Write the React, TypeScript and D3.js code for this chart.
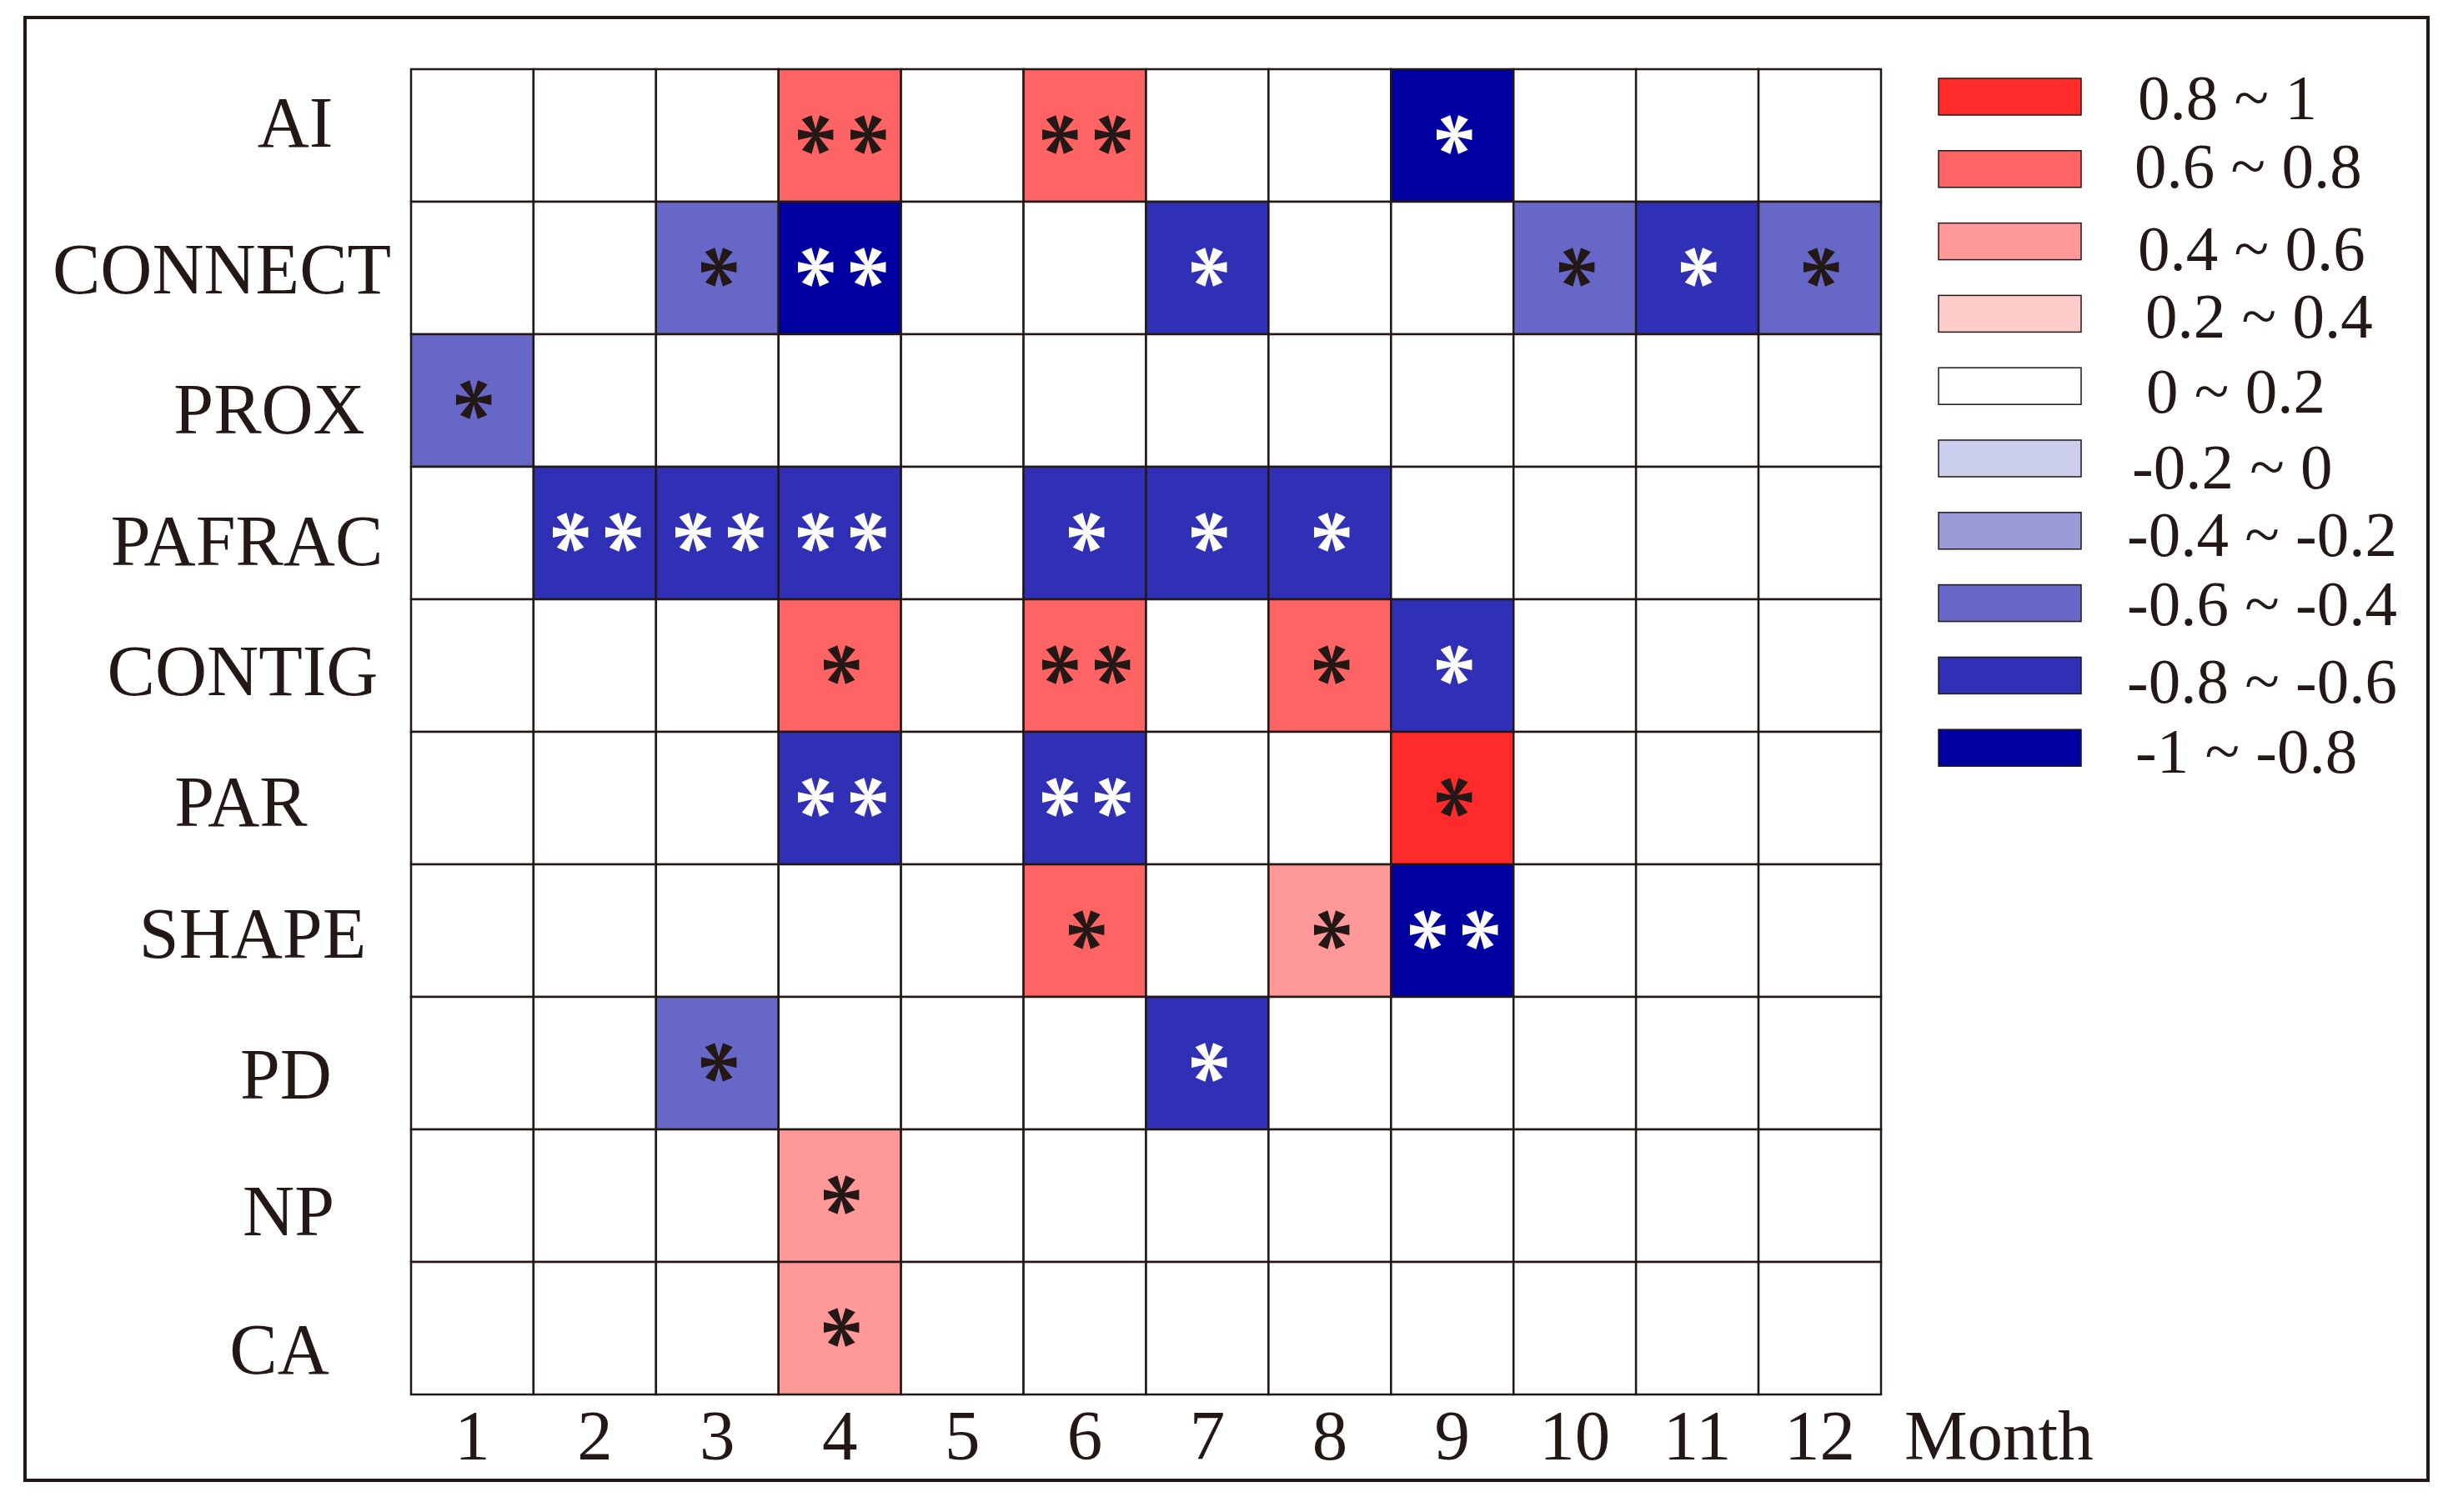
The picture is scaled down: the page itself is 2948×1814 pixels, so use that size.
import React from "react";
import * as d3 from "d3";

// Landscape metrics (rows, top to bottom) and months (columns)
const metrics = ["AI", "CONNECT", "PROX", "PAFRAC", "CONTIG", "PAR", "SHAPE", "PD", "NP", "CA"];
const months = ["1", "2", "3", "4", "5", "6", "7", "8", "9", "10", "11", "12"];

// Correlation coefficients (0 = blank / 0 ~ 0.2)
const coefficients = [
  [0, 0, 0, 0.7, 0, 0.7, 0, 0, -0.9, 0, 0, 0], // AI
  [0, 0, -0.5, -0.9, 0, 0, -0.7, 0, 0, -0.5, -0.7, -0.5], // CONNECT
  [-0.5, 0, 0, 0, 0, 0, 0, 0, 0, 0, 0, 0], // PROX
  [0, -0.7, -0.7, -0.7, 0, -0.7, -0.7, -0.7, 0, 0, 0, 0], // PAFRAC
  [0, 0, 0, 0.7, 0, 0.7, 0, 0.7, -0.7, 0, 0, 0], // CONTIG
  [0, 0, 0, -0.7, 0, -0.7, 0, 0, 0.9, 0, 0, 0], // PAR
  [0, 0, 0, 0, 0, 0.7, 0, 0.5, -0.9, 0, 0, 0], // SHAPE
  [0, 0, -0.5, 0, 0, 0, -0.7, 0, 0, 0, 0, 0], // PD
  [0, 0, 0, 0.5, 0, 0, 0, 0, 0, 0, 0, 0], // NP
  [0, 0, 0, 0.5, 0, 0, 0, 0, 0, 0, 0, 0], // CA
];

// Significance marks
const significance = [
  ["", "", "", "**", "", "**", "", "", "*", "", "", ""],
  ["", "", "*", "**", "", "", "*", "", "", "*", "*", "*"],
  ["*", "", "", "", "", "", "", "", "", "", "", ""],
  ["", "**", "**", "**", "", "*", "*", "*", "", "", "", ""],
  ["", "", "", "*", "", "**", "", "*", "*", "", "", ""],
  ["", "", "", "**", "", "**", "", "", "*", "", "", ""],
  ["", "", "", "", "", "*", "", "*", "**", "", "", ""],
  ["", "", "*", "", "", "", "*", "", "", "", "", ""],
  ["", "", "", "*", "", "", "", "", "", "", "", ""],
  ["", "", "", "*", "", "", "", "", "", "", "", ""],
];

// Legend classes (top to bottom)
const legendLabels = [
  "0.8 ~ 1", "0.6 ~ 0.8", "0.4 ~ 0.6", "0.2 ~ 0.4", "0 ~ 0.2",
  "-0.2 ~ 0", "-0.4 ~ -0.2", "-0.6 ~ -0.4", "-0.8 ~ -0.6", "-1 ~ -0.8",
];
const legendColors = [
  "#ff2a2a", "#ff6464", "#ff9999", "#ffcccc", "#ffffff",
  "#ccceee", "#9a9ad9", "#6767c8", "#3030b6", "#0000a0",
];
const thresholds = [-0.8, -0.6, -0.4, -0.2, 0, 0.2, 0.4, 0.6, 0.8];

// hand placement of the row labels and legend texts as in the original artwork
const labelCenterX = [354, 266, 323, 296, 291, 289, 303, 343, 346, 335];
const labelBaseline = [176, 352, 520, 678, 834, 991, 1149, 1318, 1482, 1648];
const legendTextX = [2564, 2560, 2564, 2573, 2574, 2557, 2551, 2551, 2551, 2561];
const legendTextDy = [27, 22, 34, 29, 32, 36, 30, 26, 33, 30];

const INK = "#231815";
const FONT = "'Liberation Serif', 'Times New Roman', serif";

const App = () => {
  const width = 2948;
  const height = 1814;

  const x = d3.scaleBand().domain(months).range([493, 2256]);
  const y = d3.scaleBand().domain(metrics).range([83, 1673]);
  const color = d3
    .scaleThreshold<number, string>()
    .domain(thresholds)
    .range(legendColors.slice().reverse());

  const cells = metrics.flatMap((m, i) =>
    months.map((mo, j) => ({
      metric: m,
      month: mo,
      r: coefficients[i][j],
      sig: significance[i][j],
    }))
  );

  const legendY = d3
    .scaleLinear()
    .domain([0, legendLabels.length - 1])
    .range([94, 94 + 86.8 * 9]);

  const starSize = 112;
  const starStep = 63;

  return (
    <div style={{ position: "absolute", left: 0, top: 0 }}>
      <svg width={width} height={height} style={{ display: "block", background: "#fff" }}>
        <rect x={0} y={0} width={width} height={height} fill="#fff" />
        {/* outer frame */}
        <rect x={30} y={21} width={2882} height={1755} fill="none" stroke={INK} strokeWidth={4} />

        {/* cells */}
        <g>
          {cells.map((d) => (
            <rect
              key={d.metric + d.month}
              x={x(d.month)}
              y={y(d.metric)}
              width={x.bandwidth()}
              height={y.bandwidth()}
              fill={color(d.r)}
              stroke={INK}
              strokeWidth={2.5}
            />
          ))}
        </g>

        {/* significance stars (glyph turned so that two arms lie flat) */}
        <g fontFamily={FONT} fontSize={starSize} fontWeight="bold" textAnchor="middle">
          {cells
            .filter((d) => d.sig)
            .flatMap((d) => {
              const n = d.sig.length;
              const cx0 = (x(d.month) as number) + x.bandwidth() / 2;
              const cy = (y(d.metric) as number) + y.bandwidth() / 2;
              return d3.range(n).map((k) => {
                const cx = cx0 + (k - (n - 1) / 2) * starStep;
                return (
                  <text
                    key={d.metric + d.month + k}
                    x={cx - 1}
                    y={cy + starSize * 0.457}
                    transform={`rotate(90 ${cx} ${cy})`}
                    fill={d.r < -0.6 ? "#ffffff" : INK}
                  >
                    *
                  </text>
                );
              });
            })}
        </g>

        {/* row labels */}
        <g fontFamily={FONT} fontSize={86} fill={INK} textAnchor="middle">
          {metrics.map((m, i) => (
            <text key={m} x={labelCenterX[i]} y={labelBaseline[i]}>
              {m}
            </text>
          ))}
        </g>

        {/* month labels */}
        <g fontFamily={FONT} fontSize={85} fill={INK}>
          {months.map((mo) => (
            <text key={mo} x={(x(mo) as number) + x.bandwidth() / 2} y={1751} textAnchor="middle">
              {mo}
            </text>
          ))}
          <text x={2284} y={1751}>
            Month
          </text>
        </g>

        {/* legend */}
        <g fontFamily={FONT} fontSize={77} fill={INK}>
          {legendLabels.map((lab, i) => (
            <g key={lab}>
              <rect
                x={2325}
                y={legendY(i)}
                width={171}
                height={44}
                fill={legendColors[i]}
                stroke={INK}
                strokeWidth={1.5}
              />
              <text x={legendTextX[i]} y={legendY(i) + 22 + legendTextDy[i]}>
                {lab}
              </text>
            </g>
          ))}
        </g>
      </svg>
    </div>
  );
};

export default App;
